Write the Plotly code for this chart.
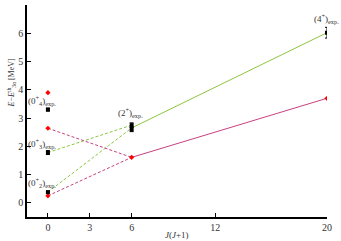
import plotly.graph_objects as go

# Data
exp_x = [0, 0, 0, 6, 6, 20]
exp_y = [3.3, 1.78, 0.38, 2.75, 2.6, 6.02]
exp_err = [0.05, 0.07, 0.03, 0.08, 0.08, 0.19]

th_x = [0, 0, 0, 6, 20]
th_y = [3.9, 2.64, 0.25, 1.61, 3.7]

green_dash_a = ([0, 6], [1.78, 2.75])
green_dash_b = ([0, 6], [0.38, 2.65])
green_solid = ([6, 20], [2.65, 6.02])
red_dash_a = ([0, 6], [2.64, 1.61])
red_dash_b = ([0, 6], [0.25, 1.61])
red_solid = ([6, 20], [1.61, 3.7])

labels = ["(0<sup>+</sup><sub>4</sub>)<sub>exp.</sub>",
          "(0<sup>+</sup><sub>3</sub>)<sub>exp.</sub>",
          "(0<sup>+</sup><sub>2</sub>)<sub>exp.</sub>",
          "(2<sup>+</sup>)<sub>exp.</sub>",
          "(4<sup>+</sup>)<sub>exp.</sub>"]
label_x = [0, 0, 0, 6, 20]
label_y = [3.3, 1.78, 0.38, 2.85, 6.2]

xticks = [0, 3, 6, 12, 20]
yticks = [0, 1, 2, 3, 4, 5, 6, 7]

GREEN = "#8cc63e"
MAG = "#c8407f"
SERIF = "Liberation Serif"

fig = go.Figure()
for (xs, ys), col, dash in [(green_dash_a, GREEN, "3px,2px"), (green_dash_b, GREEN, "3px,2px"),
                            (green_solid, GREEN, "solid"), (red_dash_a, MAG, "3px,2px"),
                            (red_dash_b, MAG, "3px,2px"), (red_solid, MAG, "solid")]:
    fig.add_trace(go.Scatter(x=xs, y=ys, mode="lines",
                             line=dict(color=col, width=1, dash=dash),
                             hoverinfo="skip", showlegend=False))

fig.add_trace(go.Scatter(x=th_x, y=th_y, mode="markers",
                         marker=dict(color="red", size=4, symbol="diamond"),
                         showlegend=False))
fig.add_trace(go.Scatter(x=exp_x, y=exp_y, mode="markers",
                         marker=dict(color="black", size=4, symbol="square"),
                         error_y=dict(type="data", array=exp_err, color="black",
                                      thickness=1, width=2),
                         showlegend=False))

# annotations for state labels
xshifts = [-6, -6, -6, -1, -1]
for t, x, y, dx in zip(labels, label_x, label_y, xshifts):
    fig.add_annotation(x=x, y=y, text=t, showarrow=False,
                       xanchor="center", yanchor="bottom", xshift=dx, yshift=1,
                       font=dict(family=SERIF, size=9, color="#333"))

# axis titles
fig.add_annotation(xref="paper", yref="paper", x=0.5, y=0, yshift=-11,
                   text="<i>J</i>(<i>J</i>+1)", showarrow=False,
                   xanchor="center", yanchor="top",
                   font=dict(family=SERIF, size=9, color="#333"))
fig.add_annotation(xref="paper", yref="paper", x=0, y=0.63, xshift=-16,
                   text="<i>E</i>−<i>E</i><sup>th</sup><sub>3α</sub> [MeV]",
                   textangle=-90, showarrow=False,
                   xanchor="center", yanchor="middle",
                   font=dict(family=SERIF, size=8, color="#333"))

fig.update_layout(
    width=341, height=241,
    margin=dict(l=27, r=14, t=5, b=24, autoexpand=False),
    paper_bgcolor="white", plot_bgcolor="white",
    font=dict(family=SERIF, size=10, color="#333"),
    xaxis=dict(range=[-1.5, 20], tickvals=xticks, showline=True, linecolor="black",
               linewidth=1.5, ticks="inside", ticklen=4, tickcolor="black",
               showgrid=False, zeroline=False, automargin=False),
    yaxis=dict(range=[-0.5, 7], tickvals=yticks, showline=True, linecolor="black",
               linewidth=1.5, ticks="inside", ticklen=4, tickcolor="black",
               showgrid=False, zeroline=False, automargin=False),
)

fig.write_html("out.html", post_script="document.body.style.margin='0';",
               config={"displayModeBar": False})
